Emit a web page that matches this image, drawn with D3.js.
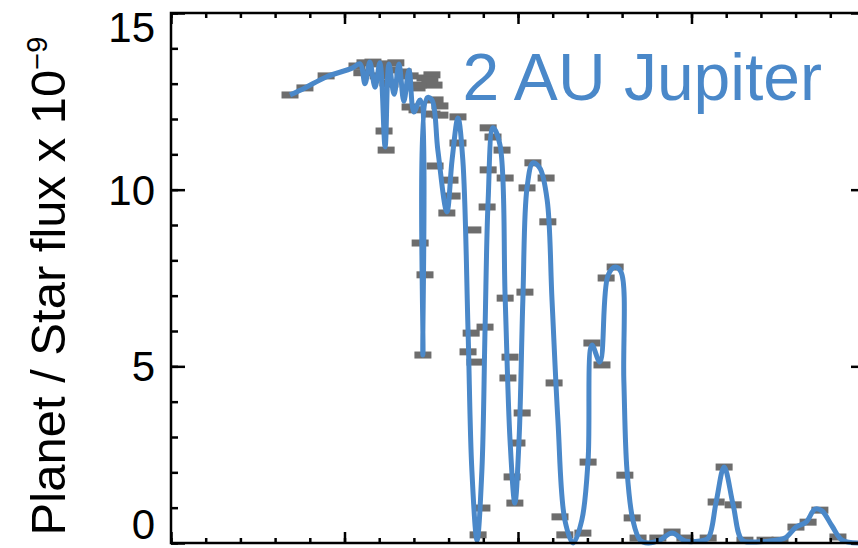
<!DOCTYPE html>
<html>
<head>
<meta charset="utf-8">
<script src="https://cdn.jsdelivr.net/npm/d3@7"></script>
<style>
  body { margin: 0; background: #fff; }
  svg { display: block; font-family: "Liberation Sans", Arial, Helvetica, sans-serif; }
</style>
</head>
<body>
<div id="chart"></div>
<script>
// model curve (blue line), x in tick units, y in 1e-9
const modelX = [3.43, 3.86, 4.47, 5.22, 5.45, 5.59, 5.73, 5.88, 6.02, 6.17, 6.28, 6.43, 6.57, 6.71, 6.86, 7.00,
  7.18, 7.26, 7.38, 7.52, 7.69, 7.95, 8.10, 8.27, 8.41, 8.56, 8.67, 8.82, 8.96, 9.05, 9.14, 9.28, 9.48, 9.63,
  9.77, 9.91, 10.03, 10.14, 10.26, 10.43, 10.63, 10.84, 10.98, 11.15, 11.35, 11.59, 11.84, 12.02, 12.13, 12.36,
  12.59, 12.80, 12.97, 13.05, 13.14, 13.31, 13.52, 13.75, 14.09, 14.44, 14.81, 15.24, 15.48, 15.71, 15.94, 16.20,
  16.46, 16.83, 17.26, 17.69, 18.01, 18.30, 18.56, 18.76, 19.05, 19.34, 19.80]
const modelY = [12.68, 12.88, 13.19, 13.44, 13.56, 13.0, 13.61, 12.9, 13.59, 11.21, 13.56, 12.7, 13.56, 12.5, 13.39, 12.2,
  12.54, 5.32, 12.60, 12.54, 11.12, 9.37, 10.84, 12.03, 10.84, 6.03, 2.07, 0.08, 2.07, 6.03, 9.71, 11.75, 11.27, 6.93,
  2.92, 1.13, 2.92, 6.88, 10.05, 10.76, 10.61, 9.71, 6.88, 3.48, 0.65, 0.00, 0.65, 2.35, 5.60, 5.12,
  7.56, 7.81, 7.67, 4.61, 2.07, 0.65, 0.08, 0.00, 0.08, 0.28, 0.06, 0.06, 0.14, 1.16, 2.15, 1.08,
  0.08, 0.03, 0.06, 0.14, 0.45, 0.59, 0.96, 0.91, 0.48, 0.08, 0.00]

// simulated measurements (grey bars)
const dataX = [3.43, 3.86, 4.47, 5.36, 5.59, 5.82, 6.05, 6.25, 6.48, 6.25, 6.69, 6.89, 7.09, 7.32, 7.52, 7.58,
  6.89, 6.14, 6.20, 7.09, 7.75, 7.52, 8.27, 8.27, 7.61, 8.04, 8.10, 7.95, 8.70, 7.18, 7.32, 7.26,
  9.14, 9.28, 9.54, 9.14, 9.63, 9.11, 9.63, 10.20, 10.43, 10.81, 10.26, 10.86, 8.65, 9.05, 8.56, 8.76,
  8.96, 8.85, 9.77, 9.71, 10.12, 9.97, 9.83, 9.91, 11.04, 11.21, 11.35, 11.87, 12.02, 12.13, 12.42, 12.54,
  12.80, 13.08, 13.29, 13.46, 14.03, 14.44, 14.81, 15.48, 15.71, 15.94, 16.20, 16.54, 17.12, 17.55, 18.01, 18.36,
  18.70, 19.22, 5.50, 5.97, 6.31, 7.12, 7.46, 7.61, 7.75]
const dataY = [12.68, 12.88, 13.22, 13.50, 13.59, 13.61, 13.56, 13.39, 13.59, 13.02, 13.33, 13.22, 12.88, 13.16, 13.25, 12.96,
  12.34, 11.66, 11.12, 12.26, 12.37, 12.14, 12.06, 11.32, 10.67, 10.27, 9.82, 9.34, 8.86, 8.49, 7.59, 5.32,
  11.75, 11.49, 11.12, 10.56, 10.33, 9.51, 6.93, 7.10, 10.76, 10.33, 10.05, 9.09, 5.94, 6.11, 5.41, 5.12,
  0.99, 0.23, 5.26, 4.67, 3.68, 2.83, 1.87, 1.13, 4.53, 0.74, 0.23, 0.28, 2.29, 5.66, 5.04, 7.50,
  7.81, 1.92, 0.71, 0.14, 0.14, 0.31, 0.14, 0.14, 1.16, 2.15, 1.08, 0.08, 0.08, 0.08, 0.45, 0.59,
  0.93, 0.17, 13.31, 13.22, 12.99, 12.96, 13.10, 12.54, 12.11]

const yTicks = [0, 5, 10, 15]
const xMajor = [0, 5, 10, 15, 20]
const label = "2 AU Jupiter"

const W = 858, H = 548
const margin = { top: 13, right: -7, bottom: 5, left: 171 }
const width = W - margin.left - margin.right
const height = H - margin.top - margin.bottom
const blue = "#4a88c9"

const svg = d3.select("#chart").append("svg")
  .attr("width", W).attr("height", H)

svg.append("rect").attr("width", W).attr("height", H).attr("fill", "#fff")

const g = svg.append("g").attr("transform", `translate(${margin.left},${margin.top})`)

const x = d3.scaleLinear().domain([0, 20]).range([0, width])
const y = d3.scaleLinear().domain([0, 15]).range([height, 0])

// grey measurement bars
g.selectAll("rect.obs")
  .data(d3.range(dataX.length))
  .join("rect")
  .attr("class", "obs")
  .attr("x", i => x(dataX[i]) - 8.5)
  .attr("y", i => y(dataY[i]) - 3.5)
  .attr("width", 17)
  .attr("height", 7)
  .attr("fill", "#6d6d6d")

// model line
g.append("path")
  .datum(d3.range(modelX.length))
  .attr("fill", "none")
  .attr("stroke", blue)
  .attr("stroke-width", 5)
  .attr("stroke-linejoin", "round")
  .attr("d", d3.line()
    .x(i => x(modelX[i]))
    .y(i => y(modelY[i]))
    .curve(d3.curveCatmullRom.alpha(0.5)))

// axes: ticks inward on all four sides
const minorY = d3.range(0, 16)
const minorX = d3.range(0, 21)
const tickStyle = sel => {
  sel.select(".domain").remove()
  sel.selectAll("line").attr("stroke", "#000").attr("stroke-width", 2.5)
  sel.selectAll("text").remove()
}
g.append("g").call(d3.axisLeft(y).tickValues(minorY).tickSize(-7)).call(tickStyle)
g.append("g").call(d3.axisLeft(y).tickValues(yTicks).tickSize(-14)).call(tickStyle)
g.append("g").attr("transform", `translate(${width},0)`)
  .call(d3.axisRight(y).tickValues(minorY).tickSize(-7)).call(tickStyle)
g.append("g").attr("transform", `translate(${width},0)`)
  .call(d3.axisRight(y).tickValues(yTicks).tickSize(-14)).call(tickStyle)
g.append("g").attr("transform", `translate(0,${height})`)
  .call(d3.axisBottom(x).tickValues(minorX).tickSize(-5)).call(tickStyle)
g.append("g").attr("transform", `translate(0,${height})`)
  .call(d3.axisBottom(x).tickValues(xMajor).tickSize(-11)).call(tickStyle)
g.append("g").call(d3.axisTop(x).tickValues(minorX).tickSize(-5)).call(tickStyle)
g.append("g").call(d3.axisTop(x).tickValues(xMajor).tickSize(-11)).call(tickStyle)

g.append("rect")
  .attr("width", width).attr("height", height)
  .attr("fill", "none").attr("stroke", "#000").attr("stroke-width", 2.5)

// y tick labels (kept inside the picture)
g.selectAll("text.ylab")
  .data(yTicks)
  .join("text")
  .attr("class", "ylab")
  .attr("x", -16)
  .attr("y", d => Math.min(Math.max(y(d), 14), height - 19))
  .attr("dy", "0.36em")
  .attr("text-anchor", "end")
  .attr("font-size", 42)
  .attr("fill", "#000")
  .text(d => d)

// y axis title
const yt = svg.append("text")
  .attr("transform", "translate(65,286) rotate(-90)")
  .attr("text-anchor", "middle")
  .attr("font-size", 49)
  .attr("fill", "#000")
yt.append("tspan").text("Planet / Star flux x 10")
yt.append("tspan").attr("dy", -18).attr("font-size", 29).text("\u22129")

// series label
g.append("text")
  .attr("x", x(8.4))
  .attr("y", 87)
  .attr("font-size", 66)
  .attr("fill", blue)
  .text(label)
</script>
</body>
</html>
